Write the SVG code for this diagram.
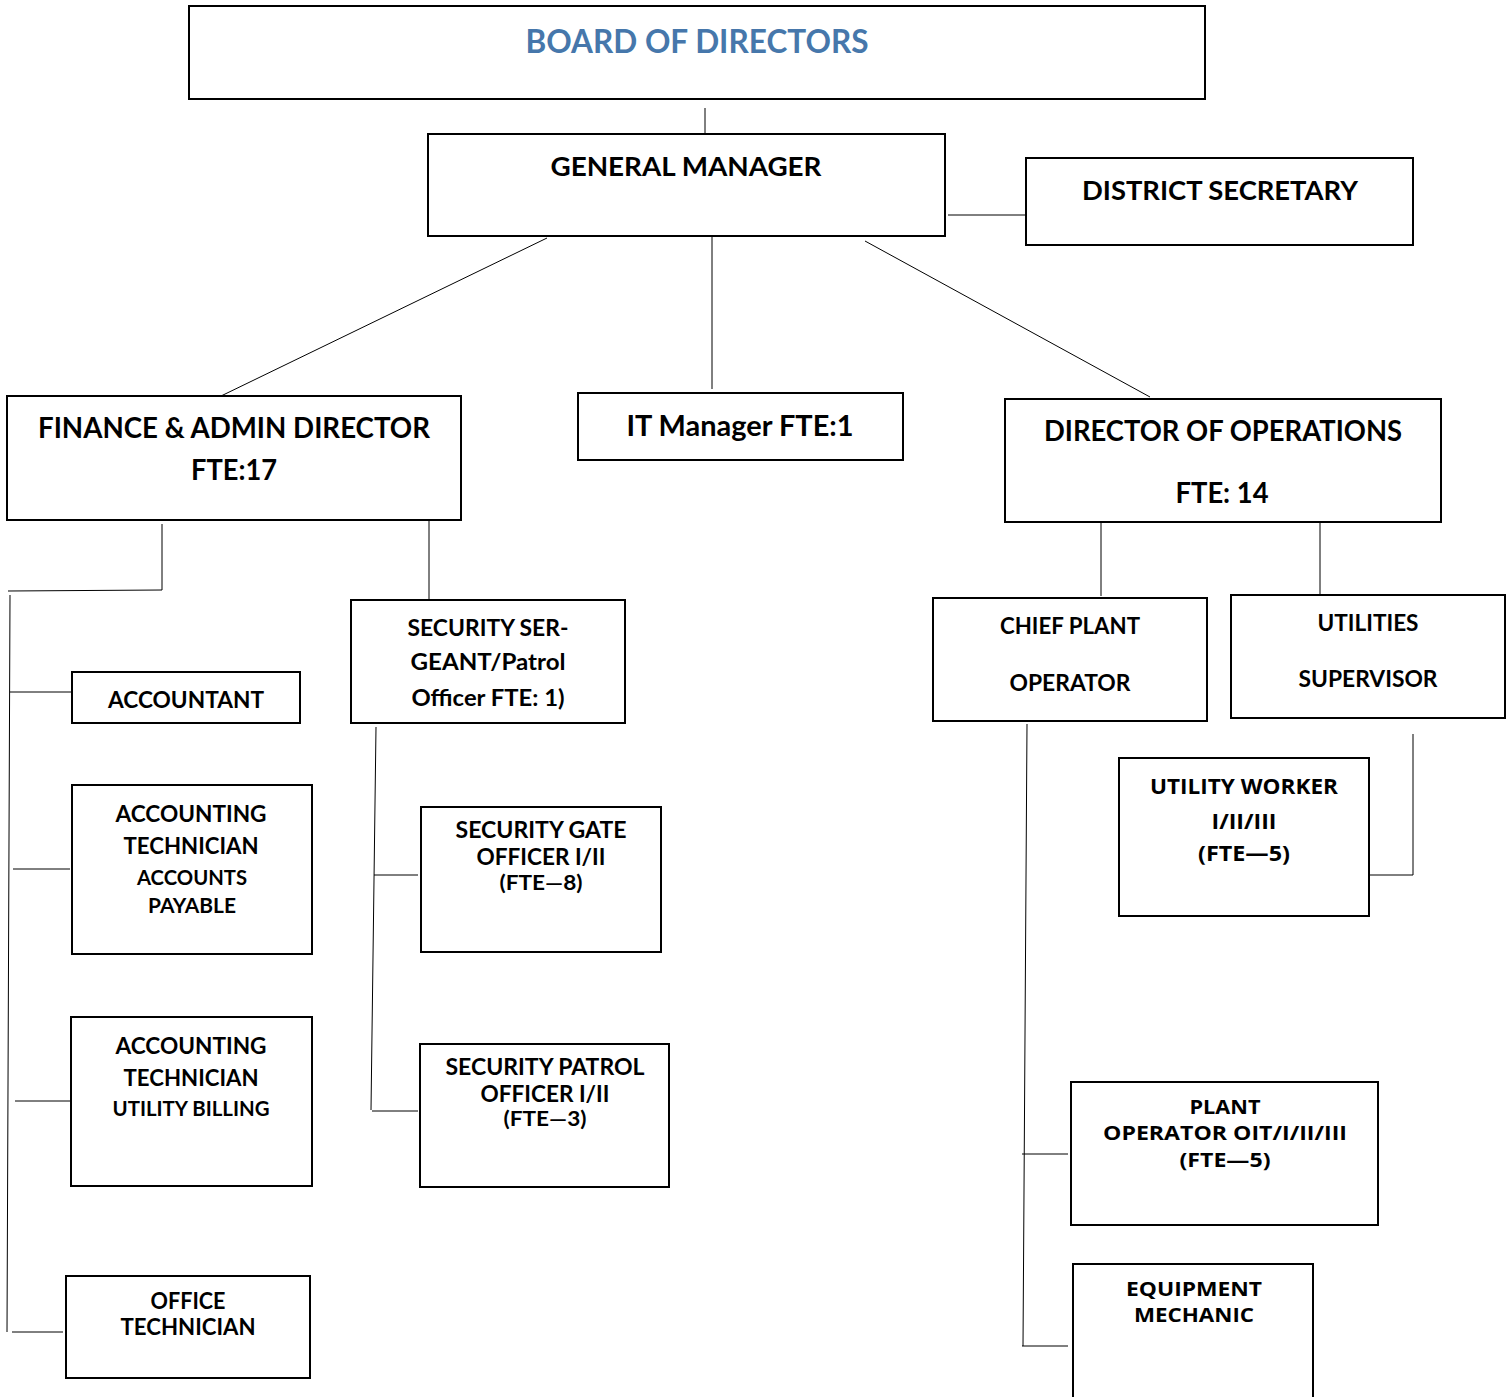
<svg xmlns="http://www.w3.org/2000/svg" width="1508" height="1397" viewBox="0 0 1508 1397">
<style>
.box{fill:#fff;stroke:#000;stroke-width:2}
.c{fill:none;stroke:#000;stroke-width:1}
.t{font-family:Lato,"Liberation Sans",sans-serif;font-weight:bold;fill:#000;text-anchor:middle}
.g{font-family:"Open Sans","Liberation Sans",sans-serif;font-weight:bold;fill:#000;text-anchor:middle}
</style>
<rect width="1508" height="1397" fill="#fff"/>
<g id="connectors">
<line class="c" x1="705" y1="108" x2="705" y2="134"/>
<line class="c" x1="948" y1="215" x2="1028" y2="215"/>
<line class="c" x1="547" y1="238" x2="221" y2="396"/>
<line class="c" x1="712" y1="231" x2="712" y2="389"/>
<line class="c" x1="865" y1="241" x2="1150" y2="397"/>
<polyline class="c" points="162,524 162,590 8,591"/>
<line class="c" x1="10" y1="595" x2="7" y2="1332"/>
<line class="c" x1="10" y1="692" x2="72" y2="692"/>
<line class="c" x1="13" y1="869" x2="70" y2="869"/>
<line class="c" x1="15" y1="1101" x2="71" y2="1101"/>
<line class="c" x1="12" y1="1332" x2="63" y2="1332"/>
<line class="c" x1="429" y1="520" x2="429" y2="604"/>
<line class="c" x1="376" y1="727" x2="371" y2="1110"/>
<line class="c" x1="374" y1="875" x2="418" y2="875"/>
<line class="c" x1="372" y1="1111" x2="418" y2="1111"/>
<line class="c" x1="1101" y1="520" x2="1101" y2="596"/>
<line class="c" x1="1320" y1="523" x2="1320" y2="596"/>
<polyline class="c" points="1413,734 1413,875 1367,875"/>
<line class="c" x1="1027" y1="724" x2="1023" y2="1346"/>
<line class="c" x1="1022" y1="1154" x2="1068" y2="1154"/>
<line class="c" x1="1022" y1="1346" x2="1068" y2="1346"/>
</g>
<g id="board">
<rect class="box" x="189" y="6" width="1016" height="93"/>
<text class="t" x="697" y="53" font-size="32" style="fill:#4677ab" textLength="343" lengthAdjust="spacingAndGlyphs">BOARD OF DIRECTORS</text>
</g>
<g id="general-manager">
<rect class="box" x="428" y="134" width="517" height="102"/>
<text class="t" x="686" y="176" font-size="27" textLength="271" lengthAdjust="spacingAndGlyphs">GENERAL MANAGER</text>
</g>
<g id="district-secretary">
<rect class="box" x="1026" y="158" width="387" height="87"/>
<text class="t" x="1220" y="200" font-size="27" textLength="276" lengthAdjust="spacingAndGlyphs">DISTRICT SECRETARY</text>
</g>
<g id="finance-admin">
<rect class="box" x="7" y="396" width="454" height="124"/>
<text class="t" x="234" y="438" font-size="28" textLength="392" lengthAdjust="spacingAndGlyphs">FINANCE &amp; ADMIN DIRECTOR</text>
<text class="t" x="234" y="480" font-size="28" textLength="86" lengthAdjust="spacingAndGlyphs">FTE:17</text>
</g>
<g id="it-manager">
<rect class="box" x="578" y="393" width="325" height="67"/>
<text class="t" x="740" y="436" font-size="28" textLength="227" lengthAdjust="spacingAndGlyphs">IT Manager FTE:1</text>
</g>
<g id="director-operations">
<rect class="box" x="1005" y="399" width="436" height="123"/>
<text class="t" x="1223" y="441" font-size="28" textLength="358" lengthAdjust="spacingAndGlyphs">DIRECTOR OF OPERATIONS</text>
<text class="t" x="1222" y="503" font-size="28" textLength="93" lengthAdjust="spacingAndGlyphs">FTE: 14</text>
</g>
<g id="accountant">
<rect class="box" x="72" y="672" width="228" height="51"/>
<text class="t" x="186" y="708" font-size="23" textLength="156" lengthAdjust="spacingAndGlyphs">ACCOUNTANT</text>
</g>
<g id="accounting-tech-ap">
<rect class="box" x="72" y="785" width="240" height="169"/>
<text class="t" x="191" y="822" font-size="23" textLength="151" lengthAdjust="spacingAndGlyphs">ACCOUNTING</text>
<text class="t" x="191" y="854" font-size="23" textLength="135" lengthAdjust="spacingAndGlyphs">TECHNICIAN</text>
<text class="t" x="192" y="885" font-size="20" textLength="110" lengthAdjust="spacingAndGlyphs">ACCOUNTS</text>
<text class="t" x="192" y="913" font-size="20" textLength="88" lengthAdjust="spacingAndGlyphs">PAYABLE</text>
</g>
<g id="accounting-tech-ub">
<rect class="box" x="71" y="1017" width="241" height="169"/>
<text class="t" x="191" y="1054" font-size="23" textLength="151" lengthAdjust="spacingAndGlyphs">ACCOUNTING</text>
<text class="t" x="191" y="1086" font-size="23" textLength="135" lengthAdjust="spacingAndGlyphs">TECHNICIAN</text>
<text class="t" x="191" y="1116" font-size="20" textLength="157" lengthAdjust="spacingAndGlyphs">UTILITY BILLING</text>
</g>
<g id="office-tech">
<rect class="box" x="66" y="1276" width="244" height="102"/>
<text class="t" x="188" y="1309" font-size="23" textLength="75" lengthAdjust="spacingAndGlyphs">OFFICE</text>
<text class="t" x="188" y="1335" font-size="23" textLength="135" lengthAdjust="spacingAndGlyphs">TECHNICIAN</text>
</g>
<g id="security-sergeant">
<rect class="box" x="351" y="600" width="274" height="123"/>
<text class="t" x="488" y="636" font-size="23" textLength="161" lengthAdjust="spacingAndGlyphs">SECURITY SER-</text>
<text class="t" x="488" y="670" font-size="23" textLength="155" lengthAdjust="spacingAndGlyphs">GEANT/Patrol</text>
<text class="t" x="488" y="706" font-size="23" textLength="153" lengthAdjust="spacingAndGlyphs">Officer FTE: 1)</text>
</g>
<g id="security-gate">
<rect class="box" x="421" y="807" width="240" height="145"/>
<text class="t" x="541" y="838" font-size="23" textLength="171" lengthAdjust="spacingAndGlyphs">SECURITY GATE</text>
<text class="t" x="541" y="865" font-size="23" textLength="129" lengthAdjust="spacingAndGlyphs">OFFICER I/II</text>
<text class="t" x="541" y="890" font-size="20" textLength="83" lengthAdjust="spacingAndGlyphs">(FTE—8)</text>
</g>
<g id="security-patrol">
<rect class="box" x="420" y="1044" width="249" height="143"/>
<text class="t" x="545" y="1075" font-size="23" textLength="199" lengthAdjust="spacingAndGlyphs">SECURITY PATROL</text>
<text class="t" x="545" y="1102" font-size="23" textLength="129" lengthAdjust="spacingAndGlyphs">OFFICER I/II</text>
<text class="t" x="545" y="1126" font-size="20" textLength="83" lengthAdjust="spacingAndGlyphs">(FTE—3)</text>
</g>
<g id="chief-plant-operator">
<rect class="box" x="933" y="598" width="274" height="123"/>
<text class="t" x="1070" y="634" font-size="23" textLength="140" lengthAdjust="spacingAndGlyphs">CHIEF PLANT</text>
<text class="t" x="1070" y="691" font-size="23" textLength="121" lengthAdjust="spacingAndGlyphs">OPERATOR</text>
</g>
<g id="utilities-supervisor">
<rect class="box" x="1231" y="595" width="274" height="123"/>
<text class="t" x="1368" y="631" font-size="23" textLength="101" lengthAdjust="spacingAndGlyphs">UTILITIES</text>
<text class="t" x="1368" y="687" font-size="23" textLength="139" lengthAdjust="spacingAndGlyphs">SUPERVISOR</text>
</g>
<g id="utility-worker">
<rect class="box" x="1119" y="758" width="250" height="158"/>
<text class="g" x="1244" y="794" font-size="21" textLength="188" lengthAdjust="spacingAndGlyphs">UTILITY WORKER</text>
<text class="g" x="1244" y="829" font-size="21" textLength="65" lengthAdjust="spacingAndGlyphs">I/II/III</text>
<text class="g" x="1244" y="861" font-size="21" textLength="92" lengthAdjust="spacingAndGlyphs">(FTE—5)</text>
</g>
<g id="plant-operator">
<rect class="box" x="1071" y="1082" width="307" height="143"/>
<text class="g" x="1225" y="1114" font-size="19" textLength="71" lengthAdjust="spacingAndGlyphs">PLANT</text>
<text class="g" x="1225" y="1140" font-size="19" textLength="244" lengthAdjust="spacingAndGlyphs">OPERATOR OIT/I/II/III</text>
<text class="g" x="1225" y="1167" font-size="19" textLength="91" lengthAdjust="spacingAndGlyphs">(FTE—5)</text>
</g>
<g id="equipment-mechanic">
<rect class="box" x="1073" y="1264" width="240" height="150"/>
<text class="g" x="1194" y="1296" font-size="19" textLength="136" lengthAdjust="spacingAndGlyphs">EQUIPMENT</text>
<text class="g" x="1194" y="1322" font-size="19" textLength="120" lengthAdjust="spacingAndGlyphs">MECHANIC</text>
</g>
</svg>
